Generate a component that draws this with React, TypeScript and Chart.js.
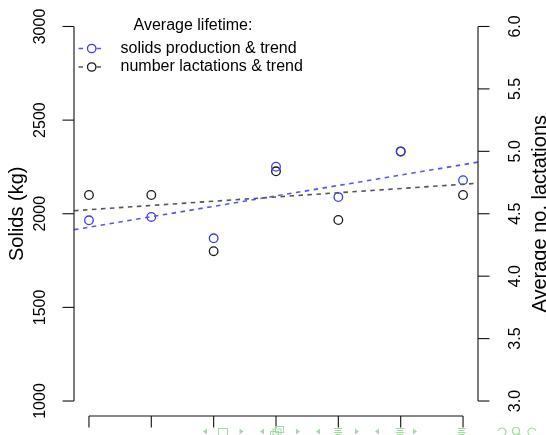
import React, { useEffect, useRef } from "react";
import { Chart, registerables } from "chart.js";

Chart.register(...registerables);

// Observation periods along the x axis (no labels are printed)
const periods = [1, 2, 3, 4, 5, 6, 7];
// Average lifetime solids production per period (kg)
const solidsKg = [1965, 1983, 1869, 2251, 2089, 2331, 2179];
// Average number of lactations per period
const lactations = [4.65, 4.65, 4.2, 4.84, 4.45, 5.0, 4.65];

const solidsTicks = [1000, 1500, 2000, 2500, 3000];
const lactationTicks = [3.0, 3.5, 4.0, 4.5, 5.0, 5.5, 6.0];

const legendTitle = "Average lifetime:";
const legendLabels = ["solids production & trend", "number lactations & trend"];
const leftTitle = "Solids (kg)";
const rightTitle = "Average no. lactations";

const FONT = '"Liberation Sans", Arial, Helvetica, sans-serif';
const BLUE = "#3a3af2";
const BLUE_LINE = "#5555f5";
const DARK = "#1a1a1a";
const DARK_LINE = "#555555";
const NAV = "#a9d6a9";

// R-style 4% padding around the data range
const padRange = (lo: number, hi: number) => {
  const d = (hi - lo) * 0.04;
  return [lo - d, hi + d];
};
const [X_MIN, X_MAX] = padRange(1, 7);
const [Y_MIN, Y_MAX] = padRange(1000, 3000);
const [Y2_MIN, Y2_MAX] = padRange(3, 6);

// Ordinary least-squares fit y = a + b x
function fitLine(xs: number[], ys: number[]) {
  const n = xs.length;
  const mx = xs.reduce((s, v) => s + v, 0) / n;
  const my = ys.reduce((s, v) => s + v, 0) / n;
  let sxy = 0;
  let sxx = 0;
  for (let i = 0; i < n; i++) {
    sxy += (xs[i] - mx) * (ys[i] - my);
    sxx += (xs[i] - mx) ** 2;
  }
  const b = sxy / sxx;
  return { a: my - b * mx, b };
}

function trendPoints(ys: number[]) {
  const { a, b } = fitLine(periods, ys);
  return [X_MIN, X_MAX].map((x) => ({ x, y: a + b * x }));
}

function rotatedText(ctx: CanvasRenderingContext2D, text: string, x: number, y: number) {
  ctx.save();
  ctx.translate(x, y);
  ctx.rotate(-Math.PI / 2);
  ctx.textAlign = "center";
  ctx.textBaseline = "middle";
  ctx.fillText(text, 0, 0);
  ctx.restore();
}

function line(ctx: CanvasRenderingContext2D, x1: number, y1: number, x2: number, y2: number) {
  ctx.beginPath();
  ctx.moveTo(x1, y1);
  ctx.lineTo(x2, y2);
  ctx.stroke();
}

// Axes, titles and legend drawn in base-graphics style
const decorations = {
  id: "baseAxes",
  afterDraw(chart: any) {
    const ctx: CanvasRenderingContext2D = chart.ctx;
    const { x, y, y2 } = chart.scales;
    const area = chart.chartArea;
    ctx.save();
    ctx.strokeStyle = "#111";
    ctx.fillStyle = "#000";
    ctx.lineWidth = 1.1;

    // left axis
    const lx = area.left;
    line(ctx, lx, y.getPixelForValue(solidsTicks[0]), lx, y.getPixelForValue(solidsTicks[solidsTicks.length - 1]));
    ctx.font = `16px ${FONT}`;
    solidsTicks.forEach((t) => {
      const py = y.getPixelForValue(t);
      line(ctx, lx - 11.5, py, lx, py);
      rotatedText(ctx, String(t), lx - 33.5, py);
    });

    // right axis
    const rx = area.right;
    line(ctx, rx, y2.getPixelForValue(lactationTicks[0]), rx, y2.getPixelForValue(lactationTicks[lactationTicks.length - 1]));
    lactationTicks.forEach((t) => {
      const py = y2.getPixelForValue(t);
      line(ctx, rx, py, rx + 11.5, py);
      rotatedText(ctx, t.toFixed(1), rx + 38, py);
    });

    // bottom axis, ticks only
    const by = area.bottom;
    line(ctx, x.getPixelForValue(periods[0]), by, x.getPixelForValue(periods[periods.length - 1]), by);
    periods.forEach((p) => {
      const px = x.getPixelForValue(p);
      line(ctx, px, by, px, by + 11.5);
    });

    // axis titles
    ctx.font = `20px ${FONT}`;
    const midY = (area.top + area.bottom) / 2;
    rotatedText(ctx, leftTitle, 17, midY);
    rotatedText(ctx, rightTitle, 540, midY);

    // legend
    ctx.font = `16px ${FONT}`;
    ctx.textAlign = "center";
    ctx.textBaseline = "middle";
    ctx.fillText(legendTitle, 193, 26);
    const rows = [
      { label: legendLabels[0], stroke: BLUE_LINE, mark: BLUE, y: 48.5 },
      { label: legendLabels[1], stroke: DARK_LINE, mark: DARK, y: 67 },
    ];
    rows.forEach((r) => {
      ctx.strokeStyle = r.stroke;
      ctx.lineWidth = 1.5;
      line(ctx, 78.5, r.y, 83, r.y);
      line(ctx, 96.5, r.y, 101, r.y);
      ctx.strokeStyle = r.mark;
      ctx.lineWidth = 1.3;
      ctx.beginPath();
      ctx.arc(91.7, r.y, 4.2, 0, Math.PI * 2);
      ctx.stroke();
      ctx.fillStyle = "#000";
      ctx.textAlign = "left";
      ctx.fillText(r.label, 120.5, r.y);
    });

    // presentation navigation symbols along the bottom edge
    ctx.fillStyle = NAV;
    ctx.strokeStyle = NAV;
    ctx.lineWidth = 1;
    const ny = 431.5;
    const triL = (cx: number) => {
      ctx.beginPath();
      ctx.moveTo(cx + 2, ny - 3);
      ctx.lineTo(cx - 2, ny);
      ctx.lineTo(cx + 2, ny + 3);
      ctx.closePath();
      ctx.fill();
    };
    const triR = (cx: number) => {
      ctx.beginPath();
      ctx.moveTo(cx - 2, ny - 3);
      ctx.lineTo(cx + 2, ny);
      ctx.lineTo(cx - 2, ny + 3);
      ctx.closePath();
      ctx.fill();
    };
    const lines = (cx: number) => {
      for (let k = 0; k < 4; k++) {
        const yy = 428.5 + k * 2;
        const w = k % 2 === 0 ? 8 : 6;
        line(ctx, cx - w / 2, yy, cx + w / 2, yy);
      }
    };
    triL(205); ctx.strokeRect(218.5, 428.5, 9, 7); triR(241.5);
    triL(262);
    ctx.strokeRect(275.5, 426.5, 8, 6);
    ctx.strokeRect(273, 429, 8, 6);
    ctx.strokeRect(270.5, 431.5, 8, 6);
    triR(298);
    triL(318); lines(338); triR(357);
    triL(377); lines(400); triR(415);
    lines(461.5);
    ctx.lineWidth = 1.2;
    ctx.beginPath();
    ctx.arc(502, 432, 4, Math.PI * 1.1, Math.PI * 2.6);
    ctx.stroke();
    ctx.beginPath();
    ctx.arc(516, 431, 3.5, 0, Math.PI * 2);
    ctx.stroke();
    line(ctx, 518.5, 433.5, 521.5, 436.5);
    ctx.beginPath();
    ctx.arc(532, 432, 4, Math.PI * 0.4, Math.PI * 1.9);
    ctx.stroke();

    ctx.restore();
  },
};

export default function App() {
  const canvasRef = useRef<HTMLCanvasElement | null>(null);

  useEffect(() => {
    document.body.style.margin = "0";
    const canvas = canvasRef.current;
    if (!canvas) return;
    const circle = {
      showLine: false,
      pointStyle: "circle",
      pointRadius: 4.3,
      pointHoverRadius: 4.3,
      pointBorderWidth: 1.3,
      pointBackgroundColor: "rgba(0,0,0,0)",
    };
    const chart = new Chart(canvas, {
      type: "scatter",
      data: {
        datasets: [
          {
            type: "line",
            data: trendPoints(solidsKg),
            yAxisID: "y",
            borderColor: BLUE_LINE,
            borderWidth: 1.6,
            borderDash: [4.5, 4.5],
            pointRadius: 0,
            fill: false,
          },
          {
            type: "line",
            data: trendPoints(lactations),
            yAxisID: "y2",
            borderColor: DARK_LINE,
            borderWidth: 1.6,
            borderDash: [4.5, 4.5],
            pointRadius: 0,
            fill: false,
          },
          {
            ...circle,
            data: periods.map((p, i) => ({ x: p, y: solidsKg[i] })),
            yAxisID: "y",
            pointBorderColor: BLUE,
            borderColor: BLUE,
          },
          {
            ...circle,
            data: periods.map((p, i) => ({ x: p, y: lactations[i] })),
            yAxisID: "y2",
            pointBorderColor: DARK,
            borderColor: DARK,
          },
        ] as any,
      },
      options: {
        responsive: false,
        animation: false,
        devicePixelRatio: 1,
        layout: { padding: { left: 74, right: 68, top: 11.5, bottom: 19 } },
        plugins: { legend: { display: false }, tooltip: { enabled: false } },
        scales: {
          x: { type: "linear", min: X_MIN, max: X_MAX, display: false },
          y: { type: "linear", min: Y_MIN, max: Y_MAX, display: false },
          y2: { type: "linear", min: Y2_MIN, max: Y2_MAX, display: false },
        },
      },
      plugins: [decorations],
    });
    return () => chart.destroy();
  }, []);

  return (
    <div style={{ position: "absolute", left: 0, top: 0, width: 546, height: 435, background: "#fff" }}>
      <canvas ref={canvasRef} width={546} height={435} />
    </div>
  );
}
